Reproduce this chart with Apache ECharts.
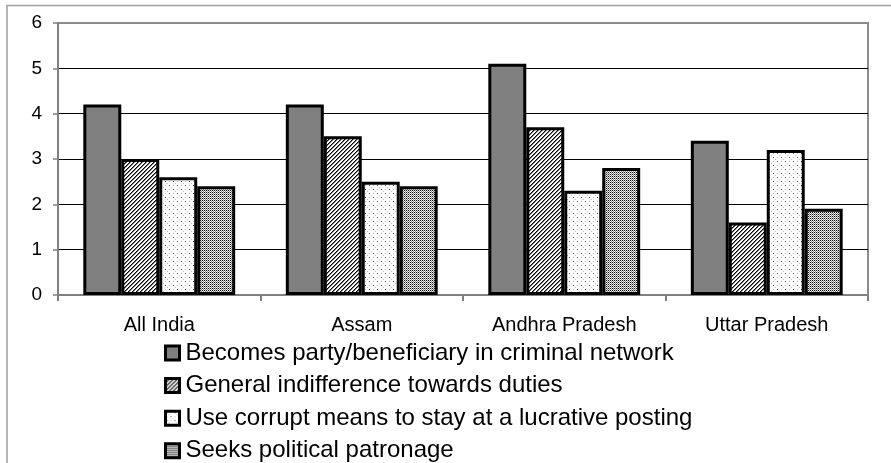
<!DOCTYPE html>
<html>
<head>
<meta charset="utf-8">
<script src="https://cdn.jsdelivr.net/npm/echarts@6/dist/echarts.min.js"></script>
<style>
  html, body { margin: 0; padding: 0; background: #fff; }
  #chart { width: 891px; height: 463px; }
</style>
</head>
<body>
<div id="chart"></div>
<script>
// Regions on the x axis
const categories = ['All India', 'Assam', 'Andhra Pradesh', 'Uttar Pradesh'];

// Series names and values per region
const seriesNames = [
  'Becomes party/beneficiary in criminal network',
  'General indifference towards duties',
  'Use corrupt means to stay at a lucrative posting',
  'Seeks political patronage'
];
const criminalNetwork = [4.2, 4.2, 5.1, 3.4];
const indifference = [3.0, 3.5, 3.7, 1.6];
const lucrativePosting = [2.6, 2.5, 2.3, 3.2];
const patronage = [2.4, 2.4, 2.8, 1.9];

// Y axis ticks
const yTicks = [0, 1, 2, 3, 4, 5, 6];

// Fill patterns drawn on small canvases
function makePattern(size, draw) {
  const c = document.createElement('canvas');
  c.width = size; c.height = size;
  const ctx = c.getContext('2d');
  ctx.fillStyle = '#fff';
  ctx.fillRect(0, 0, size, size);
  draw(ctx);
  return { image: c, repeat: 'repeat' };
}

const hatch = makePattern(4, ctx => {
  ctx.fillStyle = '#000';
  for (let i = 0; i < 4; i++) {
    ctx.fillRect(i, 3 - i, 1, 1);
  }
  ctx.fillStyle = '#777';
  for (let i = 0; i < 4; i++) {
    ctx.fillRect((i + 1) % 4, 3 - i, 1, 1);
  }
});

const sparseDots = makePattern(8, ctx => {
  ctx.fillStyle = '#444';
  ctx.fillRect(1, 1, 1, 1);
  ctx.fillRect(5, 5, 1, 1);
  ctx.fillStyle = '#bbb';
  ctx.fillRect(5, 1, 1, 1);
  ctx.fillRect(1, 5, 1, 1);
  ctx.fillRect(3, 3, 1, 1);
  ctx.fillRect(7, 7, 1, 1);
});

const denseDots = makePattern(2, ctx => {
  ctx.fillStyle = '#111';
  ctx.fillRect(0, 0, 1, 1);
  ctx.fillStyle = '#888';
  ctx.fillRect(1, 1, 1, 1);
  ctx.fillStyle = '#ddd';
  ctx.fillRect(1, 0, 1, 1);
});

const fills = ['#808080', hatch, sparseDots, denseDots];
const values = [criminalNetwork, indifference, lucrativePosting, patronage];

const chart = echarts.init(document.getElementById('chart'), null, { renderer: 'canvas' });

const font = 'Arial, "Liberation Sans", sans-serif';

// One legend row per series, stacked under the plot
const legendRowTop = 341;
const legendRowStep = 32.6;
const legends = seriesNames.map((name, i) => ({
  orient: 'vertical',
  left: 164,
  top: legendRowTop + i * legendRowStep,
  padding: 0,
  itemWidth: 14,
  itemHeight: 14,
  icon: 'rect',
  selectedMode: false,
  itemStyle: { borderColor: '#000', borderWidth: 3 },
  textStyle: { fontFamily: font, fontSize: 24, color: '#000', padding: [0, 0, 0, 1] },
  data: [name]
}));

chart.setOption({
  animation: false,
  backgroundColor: '#fff',
  graphic: [{
    type: 'polyline',
    shape: { points: [[7, 463], [7, 5.5], [891, 5.5]] },
    style: { stroke: '#a0a0a0', lineWidth: 1.5, fill: null },
    silent: true
  }],
  grid: {
    left: 58, right: 23, top: 23, bottom: 168,
    show: true,
    borderColor: '#8c8c8c',
    borderWidth: 2,
    backgroundColor: 'transparent'
  },
  legend: legends,
  xAxis: {
    type: 'category',
    data: categories,
    axisLine: { lineStyle: { color: '#808080', width: 2 } },
    axisTick: { show: true, length: 6, lineStyle: { color: '#808080', width: 2 } },
    axisLabel: { fontFamily: font, fontSize: 20, color: '#000', margin: 20 }
  },
  yAxis: {
    type: 'value',
    min: yTicks[0],
    max: yTicks[yTicks.length - 1],
    interval: 1,
    axisLine: { show: true, lineStyle: { color: '#808080', width: 2 } },
    axisTick: { show: true, length: 5, lineStyle: { color: '#808080', width: 1.5 } },
    axisLabel: { fontFamily: font, fontSize: 19, color: '#000', margin: 16 },
    splitLine: {
      show: true,
      lineStyle: { color: ['#808080', '#000', '#000', '#000', '#000', '#000', '#8c8c8c'], width: 1 }
    }
  },
  series: seriesNames.map((name, i) => ({
    name,
    type: 'bar',
    data: values[i],
    barGap: '0%',
    barCategoryGap: '25%',
    itemStyle: { color: fills[i], borderColor: '#000', borderWidth: 3 },
    emphasis: { disabled: true }
  }))
});
</script>
</body>
</html>
